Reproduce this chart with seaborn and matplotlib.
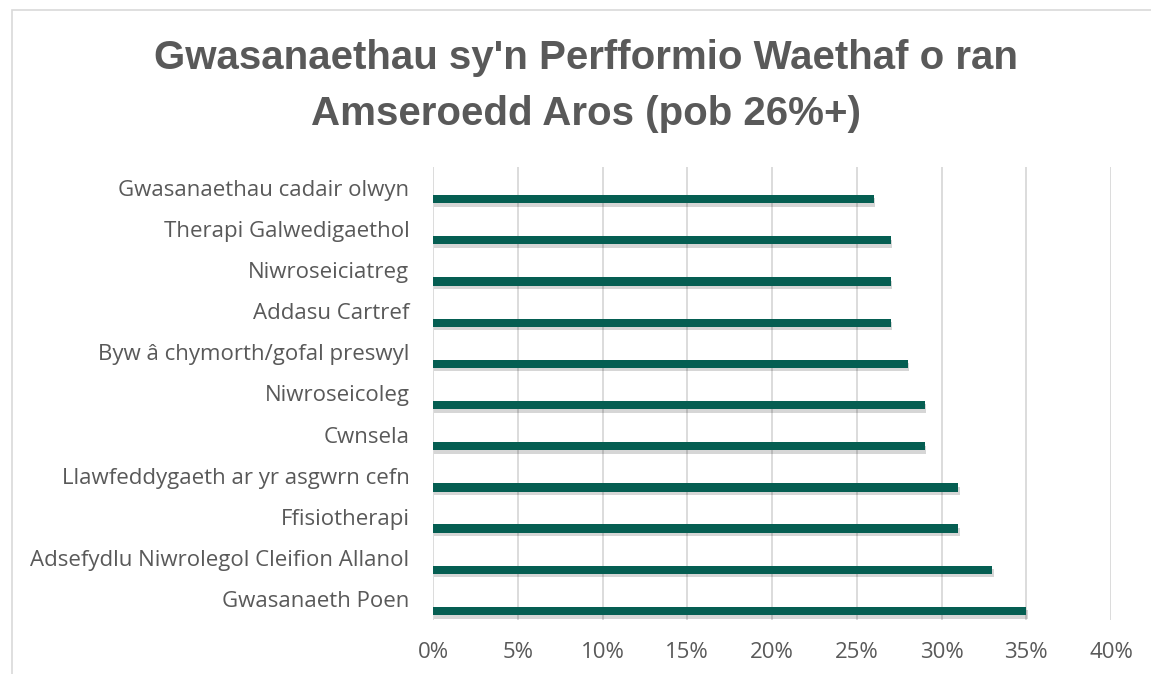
import matplotlib
matplotlib.use("Agg")
import matplotlib.pyplot as plt
import matplotlib.patheffects as pe
from matplotlib.patches import Rectangle
import seaborn as sns
import pandas as pd
import numpy as np

categories = [
    "Gwasanaethau cadair olwyn",
    "Therapi Galwedigaethol",
    "Niwroseiciatreg",
    "Addasu Cartref",
    "Byw â chymorth/gofal preswyl",
    "Niwroseicoleg",
    "Cwnsela",
    "Llawfeddygaeth ar yr asgwrn cefn",
    "Ffisiotherapi",
    "Adsefydlu Niwrolegol Cleifion Allanol",
    "Gwasanaeth Poen",
]
values = [0.26, 0.27, 0.27, 0.27, 0.28, 0.29, 0.29, 0.31, 0.31, 0.33, 0.35]
x_ticks = [0, 0.05, 0.10, 0.15, 0.20, 0.25, 0.30, 0.35, 0.40]
x_labels = ["0%", "5%", "10%", "15%", "20%", "25%", "30%", "35%", "40%"]
title = "Gwasanaethau sy'n Perfformio Waethaf o ran\nAmseroedd Aros (pob 26%+)"

sns.set_theme(style="white")
plt.rcParams["font.family"] = ["Open Sans", "DejaVu Sans"]

df = pd.DataFrame({"cat": categories, "val": values})

fig = plt.figure(figsize=(11.51, 6.74), dpi=100)
fig.patch.set_facecolor("white")
fig.patches.append(Rectangle((12 / 1151, -0.1), 1.2, 1 - 10 / 674 + 0.1,
                             transform=fig.transFigure, fill=False,
                             edgecolor="#d9d9d9", linewidth=1.2, zorder=0))

ax = fig.add_axes([433 / 1151, 1 - 620 / 674, (1111 - 433) / 1151, (620 - 167) / 674])
sns.barplot(data=df, x="val", y="cat", orient="h", color="#055E52",
            width=0.2, saturation=1, ax=ax, zorder=3)
for p in ax.patches:
    p.set_linewidth(0)
    p.set_path_effects([pe.SimplePatchShadow(offset=(1, -2.5), shadow_rgbFace="black", alpha=0.16),
                        pe.Normal()])

n = len(categories)
off = 0.28
ax.set_yticks(np.arange(n) - off)
ax.set_yticklabels(categories)
ax.set_ylim(n - 0.5 - off, -0.5 - off)
ax.set_xlim(0, 0.40)
ax.set_xticks(x_ticks)
ax.set_xticklabels(x_labels)
ax.xaxis.grid(True, color="#d9d9d9", linewidth=1.3, zorder=0)
ax.set_axisbelow(True)
for s in ax.spines.values():
    s.set_visible(False)
ax.tick_params(axis="y", length=0, pad=17, labelsize=16, labelcolor="#595959")
ax.tick_params(axis="x", length=0, pad=16, labelsize=16, labelcolor="#595959")
ax.set_xlabel("")
ax.set_ylabel("")

fig.text(586 / 1151, 1 - 86 / 674, title, ha="center", va="center",
         fontsize=29, fontweight="bold", color="#595959", linespacing=1.6,
         family=["Liberation Sans", "DejaVu Sans"])

fig.savefig("out.png", dpi=100, facecolor="white")
